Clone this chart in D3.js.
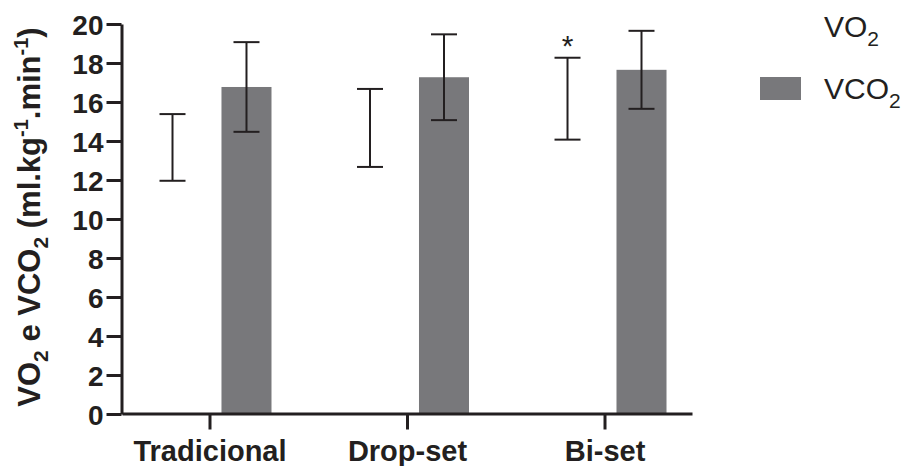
<!DOCTYPE html>
<html>
<head>
<meta charset="utf-8">
<script src="https://cdn.jsdelivr.net/npm/d3@7"></script>
<style>
  body { margin: 0; background: #fff; }
  svg { display: block; font-family: "Liberation Sans", Arial, sans-serif; }
</style>
</head>
<body>
<svg id="chart"></svg>
<script>
var width = 908;
var height = 466;
var ink = "#231f20";
var barGrey = "#78787b";

// data
var categories = ["Tradicional", "Drop-set", "Bi-set"];
var series = ["VO2", "VCO2"];
var vo2Mean = [13.67, 14.67, 16.17];
var vo2Err = [1.71, 2.0, 2.1];
var vco2Mean = [16.77, 17.27, 17.65];
var vco2Err = [2.3, 2.2, 2.0];
var yTicks = [0, 2, 4, 6, 8, 10, 12, 14, 16, 18, 20];
var significant = [false, false, true]; // asterisk over VO2

var rows = [];
categories.forEach(function (c, i) {
    rows.push({cat: c, s: "VO2", mean: vo2Mean[i], err: vo2Err[i], star: significant[i]});
    rows.push({cat: c, s: "VCO2", mean: vco2Mean[i], err: vco2Err[i], star: false});
});

var svg = d3.select("#chart").attr("width", width).attr("height", height);

var x = d3.scalePoint().domain(categories).range([122, 692]).padding(0.443);
var sub = d3.scaleBand().domain(series).range([-62, 62]).paddingInner(0.324);
var y = d3.scaleLinear().domain([0, 20]).range([414, 24]);
var fill = d3.scaleOrdinal().domain(series).range(["#ffffff", barGrey]);

// bars
svg.selectAll(".bar")
    .data(rows)
    .enter()
    .append("rect")
    .attr("class", "bar")
    .attr("x", function (d) { return x(d.cat) + sub(d.s); })
    .attr("width", sub.bandwidth())
    .attr("y", function (d) { return y(d.mean); })
    .attr("height", function (d) { return y(0) - y(d.mean); })
    .style("fill", function (d) { return fill(d.s); });

// error bars
var cap = 13;
var eb = svg.selectAll(".err").data(rows).enter().append("g")
    .attr("class", "err")
    .attr("transform", function (d) { return "translate(" + (x(d.cat) + sub(d.s) + sub.bandwidth() / 2) + ",0)"; })
    .style("stroke", ink)
    .style("stroke-width", 2);
eb.append("line")
    .attr("y1", function (d) { return y(d.mean - d.err); })
    .attr("y2", function (d) { return y(d.mean + d.err); });
eb.append("line")
    .attr("x1", -cap).attr("x2", cap)
    .attr("y1", function (d) { return y(d.mean + d.err); })
    .attr("y2", function (d) { return y(d.mean + d.err); });
eb.append("line")
    .attr("x1", -cap).attr("x2", cap)
    .attr("y1", function (d) { return y(d.mean - d.err); })
    .attr("y2", function (d) { return y(d.mean - d.err); });

svg.selectAll(".star")
    .data(rows.filter(function (d) { return d.star; }))
    .enter()
    .append("text")
    .attr("x", function (d) { return x(d.cat) + sub(d.s) + sub.bandwidth() / 2; })
    .attr("y", function (d) { return y(d.mean + d.err) - 2; })
    .attr("text-anchor", "middle")
    .style("font-size", "30px")
    .style("fill", ink)
    .text("*");

// axes
var yAxis = svg.append("g")
    .attr("transform", "translate(121.5,0)")
    .call(d3.axisLeft(y).tickValues(yTicks).tickSize(15).tickSizeOuter(0).tickPadding(3));
var xAxis = svg.append("g")
    .attr("transform", "translate(0,413.5)")
    .call(d3.axisBottom(x).tickSize(16).tickSizeOuter(0).tickPadding(11));

[yAxis, xAxis].forEach(function (ax) {
    ax.select(".domain").style("stroke", ink).style("stroke-width", 3);
    ax.selectAll(".tick line").style("stroke", ink).style("stroke-width", 3);
    ax.selectAll("text")
        .style("font-family", "Liberation Sans, Arial, sans-serif")
        .style("font-weight", "bold")
        .style("font-size", "28px")
        .style("fill", ink);
});
yAxis.selectAll("text").attr("dy", "0.36em");
xAxis.selectAll("text").attr("dy", "0.71em");
xAxis.selectAll("text").style("font-size", "29px");

// y title
var title = svg.append("text")
    .attr("transform", "translate(40,217) rotate(-90)")
    .attr("text-anchor", "middle")
    .style("font-weight", "bold")
    .style("font-size", "31px")
    .style("fill", ink);
title.append("tspan").text("VO");
title.append("tspan").attr("dy", 8).style("font-size", "21px").text("2");
title.append("tspan").attr("dy", -8).text(" e VCO");
title.append("tspan").attr("dy", 8).style("font-size", "21px").text("2");
title.append("tspan").attr("dy", -8).text(" (ml.kg");
title.append("tspan").attr("dy", -12).style("font-size", "20px").text("-1");
title.append("tspan").attr("dy", 12).text(".min");
title.append("tspan").attr("dy", -12).style("font-size", "20px").text("-1");
title.append("tspan").attr("dy", 12).text(")");

// legend
var legend = svg.selectAll(".legend")
    .data(series)
    .enter()
    .append("g")
    .attr("class", "legend")
    .attr("transform", function (d, i) { return "translate(760," + (37 + i * 62) + ")"; });
legend.append("rect")
    .attr("x", 0).attr("y", -22)
    .attr("width", 41).attr("height", 23)
    .style("fill", function (d) { return fill(d); });
var lt = legend.append("text")
    .attr("x", 64).attr("y", 0)
    .style("font-size", "30px")
    .style("fill", ink);
lt.append("tspan").text(function (d) { return d.slice(0, -1); });
lt.append("tspan").attr("dy", 9).style("font-size", "21px").text("2");
</script>
</body>
</html>
